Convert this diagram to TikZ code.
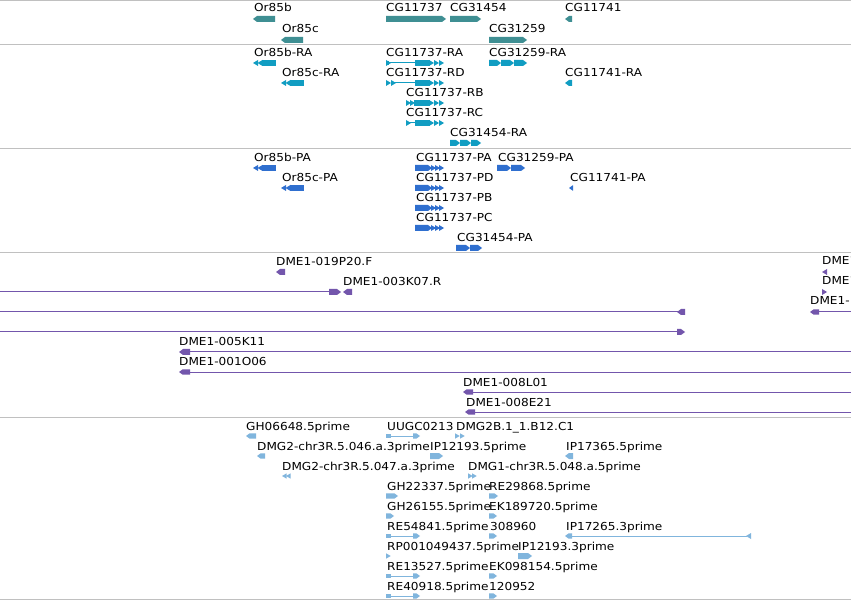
\documentclass[tikz,border=0pt]{standalone}
\usepackage{fontspec}
\setmainfont{DejaVu Sans}[FakeStretch=1.1]
\definecolor{gn}{HTML}{3F8F93}
\definecolor{tr}{HTML}{119DC2}
\definecolor{pr}{HTML}{2F6FCF}
\definecolor{dm}{HTML}{7356AC}
\definecolor{es}{HTML}{80B5DD}
\definecolor{sep}{HTML}{C0C0C0}
% forward arrow: colour, x1, x2, y, half height
\newcommand\fwdA[5]{\fill[#1] (#2,#4-#5) -- ({#3-#5-1},#4-#5) -- (#3,#4) -- ({#3-#5-1},#4+#5) -- (#2,#4+#5) -- cycle;}
\newcommand\revA[5]{\fill[#1] (#3,#4-#5) -- ({#2+#5+1},#4-#5) -- (#2,#4) -- ({#2+#5+1},#4+#5) -- (#3,#4+#5) -- cycle;}
% chevrons: colour, x, y, half height
\newcommand\chR[4]{\fill[#1] (#2,#3-#4) -- ({#2+#4+2},#3) -- (#2,#3+#4) -- cycle;}
\newcommand\chL[4]{\fill[#1] ({#2+#4+2},#3-#4) -- (#2,#3) -- ({#2+#4+2},#3+#4) -- cycle;}
\newcommand\blk[5]{\fill[#1] (#2,#4-#5) rectangle (#3,#4+#5);}
\newcommand\thin[4]{\draw[#1,line width=1pt] (#2,#4) -- (#3,#4);}
\begin{document}
\begin{tikzpicture}[x=1pt,y=-1pt,
  lbl/.style={anchor=base west,inner sep=0pt,font=\fontsize{11}{13}\selectfont,text=black}]
\path[use as bounding box] (0,0) rectangle (851,601);
\clip (0,0) rectangle (851,601);
\fill[white] (0,0) rectangle (851,601);
% separators
\foreach \yy in {1,45,149,253,417,599} \draw[sep,line width=1pt] (0,\yy) -- (851,\yy);

% ---------- genes ----------
\node[lbl] (g1) at (254,12) {Or85b};
\node[lbl] (g2) at (282,33) {Or85c};
\node[lbl] (g3) at (386,12) {CG11737};
\node[lbl] (g4) at (450,12) {CG31454};
\node[lbl] (g5) at (565,12) {CG11741};
\node[lbl] (g6) at (489,33) {CG31259};
\revA{gn}{253}{275}{19}{3}
\revA{gn}{281}{303}{40}{3}
\fwdA{gn}{386}{446}{19}{3}
\fwdA{gn}{450}{481}{19}{3}
\revA{gn}{565}{572}{19}{3}
\fwdA{gn}{489}{527}{40}{3}

% ---------- transcripts ----------
\node[lbl] (t1) at (254,57) {Or85b-RA};
\node[lbl] (t2) at (282,77) {Or85c-RA};
\node[lbl] (t3) at (386,57) {CG11737-RA};
\node[lbl] (t4) at (489,57) {CG31259-RA};
\node[lbl] (t5) at (386,77) {CG11737-RD};
\node[lbl] (t6) at (565,77) {CG11741-RA};
\node[lbl] (t7) at (406,97) {CG11737-RB};
\node[lbl] (t8) at (406,117) {CG11737-RC};
\node[lbl] (t9) at (450,137) {CG31454-RA};
% Or85b-RA / Or85c-RA
\foreach \xx/\yy in {253/63,281/83}{
  \chL{tr}{\xx}{\yy}{3}
  \chL{tr}{\xx+4.5}{\yy}{3}
  \blk{tr}{\xx+9}{\xx+23}{\yy}{3}}
% CG11737-RA
\chR{tr}{386}{63}{3}\blk{tr}{386}{389}{63}{2.2}
\thin{tr}{390}{415}{63}
\blk{tr}{415}{430}{63}{3}
\foreach \cc in {429,434,439} {\chR{tr}{\cc}{63}{3}}
% CG11737-RD
\chR{tr}{386}{83}{3}\chR{tr}{391}{83}{3}
\thin{tr}{394}{415}{83}
\blk{tr}{415}{430}{83}{3}
\foreach \cc in {429,434,439} {\chR{tr}{\cc}{83}{3}}
% CG11737-RB
\chR{tr}{406}{103}{3}\chR{tr}{410}{103}{3}
\blk{tr}{414}{430}{103}{3}
\foreach \cc in {429,434,439} {\chR{tr}{\cc}{103}{3}}
% CG11737-RC
\chR{tr}{406}{123}{3}
\thin{tr}{409}{415}{123}
\blk{tr}{415}{430}{123}{3}
\foreach \cc in {429,434,439} {\chR{tr}{\cc}{123}{3}}
% CG31259-RA
\fwdA{tr}{489}{501}{63}{3}\fwdA{tr}{501}{514}{63}{3}\fwdA{tr}{514}{527}{63}{3}
% CG31454-RA
\fwdA{tr}{450}{460}{143}{3}\fwdA{tr}{460}{471}{143}{3}\fwdA{tr}{471}{481}{143}{3}
% CG11741-RA
\revA{tr}{565}{572}{83}{3}

% ---------- proteins ----------
\node[lbl] (p1) at (254,162) {Or85b-PA};
\node[lbl] (p2) at (282,182) {Or85c-PA};
\node[lbl] (p3) at (416,162) {CG11737-PA};
\node[lbl] (p4) at (498,162) {CG31259-PA};
\node[lbl] (p5) at (416,182) {CG11737-PD};
\node[lbl] (p6) at (570,182) {CG11741-PA};
\node[lbl] (p7) at (416,202) {CG11737-PB};
\node[lbl] (p8) at (416,222) {CG11737-PC};
\node[lbl] (p9) at (457,242) {CG31454-PA};
\foreach \xx/\yy in {253/168,281/188}{
  \chL{pr}{\xx}{\yy}{3}
  \chL{pr}{\xx+4.5}{\yy}{3}
  \blk{pr}{\xx+9}{\xx+23}{\yy}{3}}
\foreach \yy in {168,188,208,228}{
  \fwdA{pr}{415}{432}{\yy}{3}
  \chR{pr}{431}{\yy}{3}\chR{pr}{435}{\yy}{3}\chR{pr}{439}{\yy}{3}}
\fwdA{pr}{497}{511}{168}{3}\fwdA{pr}{511}{525}{168}{3}
\revA{pr}{569}{573}{188}{2.7}
\fwdA{pr}{456}{470}{248}{3}\fwdA{pr}{470}{482}{248}{3}

% ---------- DME ----------
\node[lbl] (d1) at (276,266) {DME1-019P20.F};
\node[lbl] (d2) at (343,286) {DME1-003K07.R};
\node[lbl] (d3) at (179,346) {DME1-005K11};
\node[lbl] (d4) at (179,366) {DME1-001O06};
\node[lbl] (d5) at (463,386) {DME1-008L01};
\node[lbl] (d6) at (466,406) {DME1-008E21};
\node[lbl] (d7) at (822,265) {DME1-};
\node[lbl] (d8) at (822,285) {DME1-};
\node[lbl] (d9) at (810,305) {DME1-};
\revA{dm}{276}{285}{272}{3}
\thin{dm}{0}{330}{292}
\fwdA{dm}{329}{341}{292}{3}
\revA{dm}{343}{352}{292}{3}
\thin{dm}{0}{680}{312}
\revA{dm}{677}{685}{312}{3}
\thin{dm}{0}{680}{332}
\fwdA{dm}{677}{685}{332}{3}
\revA{dm}{179}{190}{352}{3}\thin{dm}{189}{851}{352}
\revA{dm}{179}{190}{372}{2.7}\thin{dm}{189}{851}{372}
\revA{dm}{463}{473}{392}{2.7}\thin{dm}{472}{851}{392}
\revA{dm}{465}{475}{412}{2.7}\thin{dm}{474}{851}{412}
\chL{dm}{822}{272}{3}
\chR{dm}{822}{292}{3}
\revA{dm}{810}{819}{312}{2.7}\thin{dm}{818}{851}{312}

% ---------- ESTs ----------
\node[lbl] (e1) at (246,430) {GH06648.5prime};
\node[lbl] (e2) at (387,430) {UUGC0213};
\node[lbl] (e3) at (456,430) {DMG2B.1\_1.B12.C1};
\node[lbl] (e4) at (257,450) {DMG2-chr3R.5.046.a.3prime};
\node[lbl] (e5) at (430,450) {IP12193.5prime};
\node[lbl] (e6) at (566,450) {IP17365.5prime};
\node[lbl] (e7) at (282,470) {DMG2-chr3R.5.047.a.3prime};
\node[lbl] (e8) at (468,470) {DMG1-chr3R.5.048.a.5prime};
\node[lbl] (e9) at (387,490) {GH22337.5prime};
\node[lbl] (e10) at (489,490) {RE29868.5prime};
\node[lbl] (e11) at (387,510) {GH26155.5prime};
\node[lbl] (e12) at (489,510) {EK189720.5prime};
\node[lbl] (e13) at (387,530) {RE54841.5prime};
\node[lbl] (e14) at (490,530) {308960};
\node[lbl] (e15) at (566,530) {IP17265.3prime};
\node[lbl] (e16) at (387,550) {RP001049437.5prime};
\node[lbl] (e17) at (518,550) {IP12193.3prime};
\node[lbl] (e18) at (387,570) {RE13527.5prime};
\node[lbl] (e19) at (489,570) {EK098154.5prime};
\node[lbl] (e20) at (387,590) {RE40918.5prime};
\node[lbl] (e21) at (489,590) {120952};
% row 436
\revA{es}{246}{256}{436}{2.7}
\foreach \yy in {436,536,576,596}{
  \blk{es}{386}{391}{\yy}{2.2}
  \thin{es}{390}{415}{\yy}
  \fwdA{es}{413}{420}{\yy}{2.7}}
\chR{es}{455}{436}{2.7}\chR{es}{460}{436}{2.7}
% row 456
\revA{es}{257}{265}{456}{2.7}
\fwdA{es}{430}{443}{456}{3}
\revA{es}{565}{573}{456}{3}
% row 476
\chL{es}{282}{476}{2.7}\chL{es}{286}{476}{2.7}
\chR{es}{468}{476}{2.7}\chR{es}{472}{476}{2.7}
% row 496
\fwdA{es}{386}{398}{496}{2.7}
\fwdA{es}{489}{498}{496}{2.7}
% row 516
\fwdA{es}{386}{394}{516}{2.7}
\fwdA{es}{489}{497}{516}{2.7}
% row 536
\fwdA{es}{489}{497}{536}{2.7}
\revA{es}{565}{572}{536}{2.7}
\thin{es}{571}{747}{536}
\chL{es}{746}{536}{3}
% row 556
\chR{es}{386}{556}{2.7}
\fwdA{es}{518}{532}{556}{3}
% rows 576, 596
\fwdA{es}{489}{497}{576}{2.7}
\fwdA{es}{489}{497}{596}{2.7}
\end{tikzpicture}
\end{document}
